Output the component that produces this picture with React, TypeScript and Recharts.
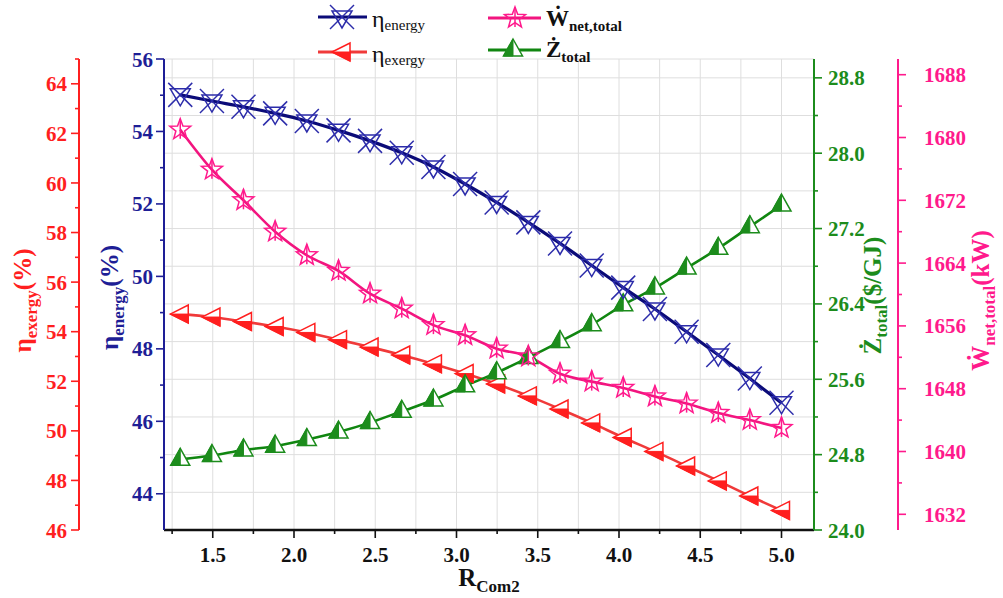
import React from 'react';
import { ComposedChart, Line, XAxis, YAxis, CartesianGrid } from 'recharts';

// ---------------- data ----------------
const rCom2 = [1.3, 1.495, 1.689, 1.884, 2.079, 2.274, 2.468, 2.663, 2.858, 3.053, 3.247, 3.442, 3.637, 3.832, 4.026, 4.221, 4.416, 4.611, 4.805, 5.0];
const etaEnergy = [55.01, 54.84, 54.68, 54.5, 54.29, 54.03, 53.74, 53.41, 53.02, 52.55, 52.04, 51.49, 50.91, 50.3, 49.69, 49.1, 48.47, 47.83, 47.18, 46.51];
const etaExergy = [54.71, 54.59, 54.41, 54.21, 53.97, 53.68, 53.38, 53.06, 52.7, 52.31, 51.89, 51.41, 50.88, 50.32, 49.73, 49.17, 48.58, 47.98, 47.37, 46.79];
const wNetTotal = [1681.0, 1675.9, 1672.0, 1668.0, 1665.0, 1663.0, 1660.1, 1658.2, 1656.1, 1654.8, 1653.1, 1652.1, 1649.9, 1648.9, 1648.1, 1647.0, 1646.1, 1644.9, 1644.0, 1643.0];
const zTotal = [24.75, 24.79, 24.85, 24.89, 24.96, 25.04, 25.14, 25.26, 25.38, 25.53, 25.67, 25.83, 26.0, 26.18, 26.39, 26.57, 26.78, 26.99, 27.22, 27.45];

const xTicks = [1.25, 1.5, 1.75, 2.0, 2.25, 2.5, 2.75, 3.0, 3.25, 3.5, 3.75, 4.0, 4.25, 4.5, 4.75, 5.0];
const energyTicks = [44, 45, 46, 47, 48, 49, 50, 51, 52, 53, 54, 55, 56];
const exergyTicks = [46, 47, 48, 49, 50, 51, 52, 53, 54, 55, 56, 57, 58, 59, 60, 61, 62, 63, 64, 65];
const zTicks = [24.0, 24.4, 24.8, 25.2, 25.6, 26.0, 26.4, 26.8, 27.2, 27.6, 28.0, 28.4, 28.8];
const wTicks = [1632, 1636, 1640, 1644, 1648, 1652, 1656, 1660, 1664, 1668, 1672, 1676, 1680, 1684, 1688];

const data = rCom2.map((x, i) => ({
  x,
  energy: etaEnergy[i],
  exergy: etaExergy[i],
  wnet: wNetTotal[i],
  z: zTotal[i],
}));

// ---------------- styles ----------------
const SERIF = "'Liberation Serif','Times New Roman',Times,serif";
const RED = '#ff1f1f';
const RED_LINE = '#f03a3a';
const NAVY = '#1e1e96';
const NAVY_LINE = '#0b0b78';
const NAVY_MARK = '#2c2caa';
const GREEN = '#1c8c1c';
const GREEN_LINE = '#108610';
const PINK = '#ff1a8c';
const PINK_LINE = '#f2157f';

const isMult = (v: number, step: number) => Math.abs(v / step - Math.round(v / step)) < 1e-6;

// ---------------- markers ----------------
function BlueMarker({ cx, cy }: { cx: number; cy: number }) {
  return (
    <g fill="none" stroke={NAVY_MARK} strokeWidth={1.5}>
      <line x1={cx - 12} y1={cy - 12} x2={cx + 12} y2={cy + 12} />
      <line x1={cx + 12} y1={cy - 12} x2={cx - 12} y2={cy + 12} />
      <polygon points={`${cx - 10},${cy - 6} ${cx + 10},${cy - 6} ${cx},${cy + 11}`} />
    </g>
  );
}

function starPts(cx: number, cy: number, R: number, r: number) {
  const pts: string[] = [];
  for (let k = 0; k < 10; k++) {
    const a = -Math.PI / 2 + (k * Math.PI) / 5;
    const rad = k % 2 === 0 ? R : r;
    pts.push(`${(cx + rad * Math.cos(a)).toFixed(2)},${(cy + rad * Math.sin(a)).toFixed(2)}`);
  }
  return pts.join(' ');
}

function PinkMarker({ cx, cy }: { cx: number; cy: number }) {
  return (
    <g fill="none" stroke={PINK} strokeWidth={1.5}>
      <polygon points={starPts(cx, cy, 11, 4.6)} />
      <line x1={cx} y1={cy - 11} x2={cx} y2={cy + 9} />
    </g>
  );
}

function RedMarker({ cx, cy }: { cx: number; cy: number }) {
  return (
    <g>
      <polygon points={`${cx - 10},${cy} ${cx + 8},${cy - 9} ${cx + 8},${cy + 9}`} fill="#fff" stroke={RED} strokeWidth={1.5} />
      <polygon points={`${cx - 10},${cy} ${cx + 8},${cy} ${cx + 8},${cy + 9}`} fill={RED} stroke={RED} strokeWidth={1} />
    </g>
  );
}

function GreenMarker({ cx, cy }: { cx: number; cy: number }) {
  return (
    <g>
      <polygon points={`${cx},${cy - 11} ${cx + 9.5},${cy + 6} ${cx - 9.5},${cy + 6}`} fill="#fff" stroke={GREEN} strokeWidth={1.5} />
      <polygon points={`${cx},${cy - 11} ${cx},${cy + 6} ${cx - 9.5},${cy + 6}`} fill={GREEN} stroke={GREEN} strokeWidth={1} />
    </g>
  );
}

// ---------------- ticks ----------------
function makeLeftTick(color: string, step: number, fmt: (v: number) => string, gap: number) {
  return (props: any) => {
    const { x, y, payload } = props;
    const major = isMult(payload.value, step);
    return (
      <g>
        <line x1={x - (major ? 8 : 4)} x2={x} y1={y} y2={y} stroke={color} strokeWidth={1.6} />
        {major && (
          <text x={x - gap} y={y} dy="0.36em" textAnchor="end" fill={color} fontFamily={SERIF} fontWeight="bold" fontSize={21}>
            {fmt(payload.value)}
          </text>
        )}
      </g>
    );
  };
}

function makeRightTick(color: string, step: number, fmt: (v: number) => string, gap: number) {
  return (props: any) => {
    const { x, y, payload } = props;
    const major = isMult(payload.value, step);
    return (
      <g>
        <line x1={x} x2={x + (major ? 8 : 4)} y1={y} y2={y} stroke={color} strokeWidth={1.6} />
        {major && (
          <text x={x + gap} y={y} dy="0.36em" textAnchor="start" fill={color} fontFamily={SERIF} fontWeight="bold" fontSize={21}>
            {fmt(payload.value)}
          </text>
        )}
      </g>
    );
  };
}

function BottomTick(props: any) {
  const { x, y, payload } = props;
  const major = isMult(payload.value, 0.5);
  return (
    <g>
      <line x1={x} x2={x} y1={y} y2={y + (major ? 8 : 4)} stroke="#111" strokeWidth={1.6} />
      {major && (
        <text x={x} y={y + 24} dy="0.36em" textAnchor="middle" fill="#111" fontFamily={SERIF} fontWeight="bold" fontSize={21}>
          {payload.value.toFixed(1)}
        </text>
      )}
    </g>
  );
}

const RedTick = makeLeftTick(RED, 2, (v) => String(v), 12);
const BlueTick = makeLeftTick(NAVY, 2, (v) => String(v), 11);
const GreenTick = makeRightTick(GREEN, 0.8, (v) => v.toFixed(1), 14);
const PinkTick = makeRightTick(PINK, 8, (v) => String(v), 26);

// ---------------- axis titles ----------------
function vTitle(color: string, dx: number, dyc: number, main: string, sub: string, tail: string) {
  return (props: any) => {
    const vb = props.viewBox;
    const cx = vb.x + dx;
    const cy = vb.y + vb.height / 2 + dyc;
    return (
      <text transform={`translate(${cx},${cy}) rotate(-90)`} textAnchor="middle" fill={color} fontFamily={SERIF} fontWeight="bold" fontSize={25}>
        <tspan>{main}</tspan>
        <tspan fontSize={17} dy={6}>{sub}</tspan>
        <tspan dy={-6}>{tail}</tspan>
      </text>
    );
  };
}

const RedTitle = vTitle(RED, 23, 6, 'η', 'exergy', '(%)');
const BlueTitle = vTitle(NAVY, 39, 3, 'η', 'energy', '(%)');
const GreenTitle = vTitle(GREEN, 67, 1, 'Ż', 'total', '($/GJ)');
const PinkTitle = vTitle(PINK, 91, 6, 'Ẇ', 'net,total', '(kW)');

function XTitle(props: any) {
  const vb = props.viewBox;
  return (
    <text x={vb.x + vb.width / 2} y={vb.y + 56} textAnchor="middle" fill="#111" fontFamily={SERIF} fontWeight="bold" fontSize={25}>
      <tspan>R</tspan>
      <tspan fontSize={17} dy={6}>Com2</tspan>
    </text>
  );
}

// ---------------- legend ----------------
function LegendOverlay() {
  return (
    <svg width={1003} height={598} style={{ position: 'absolute', left: 0, top: 0, pointerEvents: 'none' }}>
      <line x1={318} x2={367} y1={17} y2={17} stroke={NAVY_LINE} strokeWidth={3} />
      <BlueMarker cx={342} cy={17} />
      <text x={372} y={27} fill="#111" fontFamily={SERIF} fontSize={24}>
        η<tspan fontSize={15} dy={3}>energy</tspan>
      </text>

      <line x1={318} x2={367} y1={52} y2={52} stroke={RED_LINE} strokeWidth={3} />
      <RedMarker cx={342} cy={52} />
      <text x={372} y={62} fill="#111" fontFamily={SERIF} fontSize={24}>
        η<tspan fontSize={15} dy={3}>exergy</tspan>
      </text>

      <line x1={488} x2={541} y1={18} y2={18} stroke={PINK_LINE} strokeWidth={3} />
      <PinkMarker cx={515} cy={18} />
      <text x={546} y={26} fill="#111" fontFamily={SERIF} fontWeight="bold" fontSize={23}>
        Ẇ<tspan fontSize={15} dy={5}>net,total</tspan>
      </text>

      <line x1={488} x2={541} y1={50} y2={50} stroke={GREEN_LINE} strokeWidth={3} />
      <GreenMarker cx={513} cy={50} />
      <text x={546} y={57} fill="#111" fontFamily={SERIF} fontWeight="bold" fontSize={23}>
        Ż<tspan fontSize={15} dy={5}>total</tspan>
      </text>
    </svg>
  );
}

export default function App() {
  return (
    <div style={{ position: 'absolute', left: 0, top: 0, width: 1003, height: 598, background: '#fff', overflow: 'hidden' }}>
      <ComposedChart width={1003} height={598} data={data} margin={{ top: 59, right: 8, bottom: 10, left: 8 }}>
        <CartesianGrid xAxisId="x" yAxisId="green" stroke="#dedede" strokeWidth={1} />
        <XAxis
          xAxisId="x"
          type="number"
          dataKey="x"
          domain={[1.2, 5.2]}
          ticks={xTicks}
          interval={0}
          height={58}
          tickSize={0}
          tickMargin={0}
          tick={<BottomTick />}
          axisLine={{ stroke: '#111', strokeWidth: 2.5 }}
          label={{ content: XTitle }}
        />
        <YAxis
          yAxisId="blue"
          orientation="left"
          width={85}
          type="number"
          domain={[43, 56]}
          ticks={energyTicks}
          interval={0}
          tickSize={0}
          tickMargin={0}
          tick={<BlueTick />}
          axisLine={{ stroke: NAVY, strokeWidth: 2 }}
          label={{ content: BlueTitle }}
        />
        <YAxis
          yAxisId="red"
          orientation="left"
          width={71}
          type="number"
          domain={[46, 65]}
          ticks={exergyTicks}
          interval={0}
          tickSize={0}
          tickMargin={0}
          tick={<RedTick />}
          axisLine={{ stroke: RED, strokeWidth: 2 }}
          label={{ content: RedTitle }}
        />
        <YAxis
          yAxisId="green"
          orientation="right"
          width={84}
          type="number"
          domain={[24, 29]}
          ticks={zTicks}
          interval={0}
          tickSize={0}
          tickMargin={0}
          tick={<GreenTick />}
          axisLine={{ stroke: GREEN, strokeWidth: 2 }}
          label={{ content: GreenTitle }}
        />
        <YAxis
          yAxisId="pink"
          orientation="right"
          width={97}
          type="number"
          domain={[1630, 1690]}
          ticks={wTicks}
          interval={0}
          tickSize={0}
          tickMargin={0}
          tick={<PinkTick />}
          axisLine={{ stroke: PINK, strokeWidth: 2 }}
          label={{ content: PinkTitle }}
        />
        <Line
          xAxisId="x"
          yAxisId="red"
          type="monotone"
          dataKey="exergy"
          stroke={RED_LINE}
          strokeWidth={2.6}
          isAnimationActive={false}
          activeDot={false}
          dot={(p: any) => <RedMarker key={`r${p.index}`} cx={p.cx} cy={p.cy} />}
        />
        <Line
          xAxisId="x"
          yAxisId="green"
          type="monotone"
          dataKey="z"
          stroke={GREEN_LINE}
          strokeWidth={2.6}
          isAnimationActive={false}
          activeDot={false}
          dot={(p: any) => <GreenMarker key={`g${p.index}`} cx={p.cx} cy={p.cy} />}
        />
        <Line
          xAxisId="x"
          yAxisId="pink"
          type="monotone"
          dataKey="wnet"
          stroke={PINK_LINE}
          strokeWidth={2.6}
          isAnimationActive={false}
          activeDot={false}
          dot={(p: any) => <PinkMarker key={`p${p.index}`} cx={p.cx} cy={p.cy} />}
        />
        <Line
          xAxisId="x"
          yAxisId="blue"
          type="monotone"
          dataKey="energy"
          stroke={NAVY_LINE}
          strokeWidth={3.2}
          isAnimationActive={false}
          activeDot={false}
          dot={(p: any) => <BlueMarker key={`b${p.index}`} cx={p.cx} cy={p.cy} />}
        />
      </ComposedChart>
      <LegendOverlay />
    </div>
  );
}
